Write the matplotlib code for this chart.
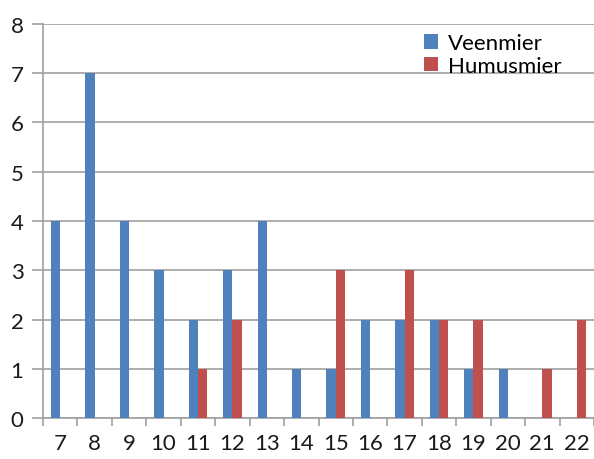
import matplotlib
matplotlib.use("Agg")
import matplotlib.pyplot as plt
import numpy as np

categories = ["7", "8", "9", "10", "11", "12", "13", "14", "15", "16", "17", "18", "19", "20", "21", "22"]
veenmier = [4, 7, 4, 3, 2, 3, 4, 1, 1, 2, 2, 2, 1, 1, 0, 0]
humusmier = [0, 0, 0, 0, 1, 2, 0, 0, 3, 0, 3, 2, 2, 0, 1, 2]
yticks = [0, 1, 2, 3, 4, 5, 6, 7, 8]

plt.rcParams['font.family'] = ['Lato', 'DejaVu Sans']

fig = plt.figure(figsize=(5.94, 4.60), dpi=100)
ax = fig.add_axes([0.0724, 0.0891, 0.9276, 0.8566])

x = np.arange(len(categories))
w = 0.27
ax.bar(x - w / 2, veenmier, width=w, color="#4F81BD", label="Veenmier", zorder=3)
ax.bar(x + w / 2, humusmier, width=w, color="#C0504D", label="Humusmier", zorder=3)

ax.set_xlim(-0.5, len(categories) - 0.5)
ax.set_ylim(0, 8)
ax.set_yticks(yticks)
ax.set_yticklabels([str(v) for v in yticks])
ax.set_xticks(x)
ax.set_xticklabels(categories)
ax.set_xticks(np.arange(-0.5, len(categories), 1.0), minor=True)

grid_c = "#A0A0A0"
ax.yaxis.grid(True, color=grid_c, linewidth=1.2, zorder=0)
for s in ["top", "right"]:
    ax.spines[s].set_visible(False)
ax.spines["left"].set_color(grid_c)
ax.spines["bottom"].set_color(grid_c)
ax.spines["left"].set_linewidth(1.2)
ax.spines["bottom"].set_linewidth(1.2)

ax.tick_params(axis="y", which="major", length=8, width=1.2, color=grid_c, labelsize=16, pad=6, labelcolor="#1a1a1a")
ax.tick_params(axis="x", which="major", length=0, labelsize=16, pad=11, labelcolor="#1a1a1a")
ax.tick_params(axis="x", which="minor", length=6, width=1.2, color=grid_c)

leg = ax.legend(loc="upper left", bbox_to_anchor=(0.668, 1.01), frameon=False, fontsize=16,
                handlelength=0.6, handleheight=0.6, handletextpad=0.45, labelspacing=0.1,
                borderaxespad=0.2)

fig.savefig("out.png", dpi=100)
